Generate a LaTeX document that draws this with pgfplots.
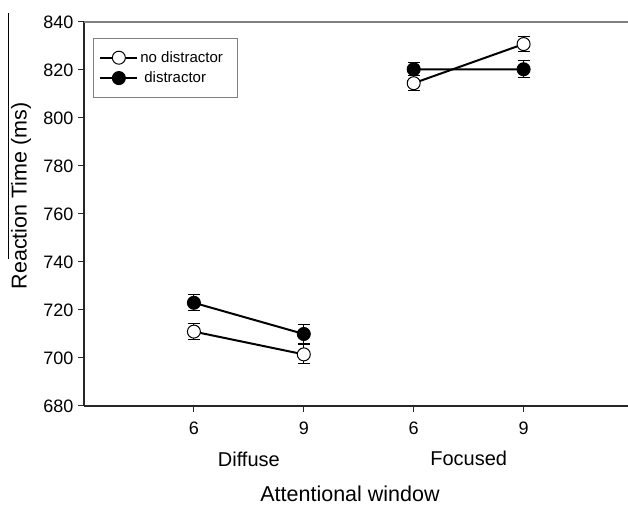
\documentclass[border=0pt]{standalone}
\usepackage{fontspec}
\setmainfont{Liberation Sans}
\usepackage{pgfplots}
\pgfplotsset{compat=1.18}
\begin{document}
\begin{tikzpicture}
\begin{axis}[
  name=ax,
  scale only axis,
  width=544pt, height=384pt,
  xmin=0, xmax=4.95, ymin=680, ymax=840,
  axis x line*=bottom, axis y line*=left,
  axis line style={line width=1.2pt, black!85, -},
  xtick={1,2,3,4}, xticklabels={6,9,6,9},
  ytick={680,700,...,840},
  tick align=outside, major tick length=6pt,
  tick style={line width=1pt, black!85},
  tick label style={font=\fontsize{18}{21}\selectfont},
  xticklabel style={yshift=-6pt},
  yticklabel style={xshift=-1pt},
  /pgf/number format/assume math mode=true,
  /pgf/number format/1000 sep={},
  clip=false,
  unbounded coords=jump,
  xlabel={Attentional window},
  xlabel style={at={(rel axis cs:0.489,0)}, anchor=center, yshift=-88pt, font=\fontsize{21.5}{24}\selectfont},
  ylabel={Reaction Time (ms)},
  ylabel style={at={(rel axis cs:-0.1158,0.547)}, anchor=center, rotate=0, font=\fontsize{21.5}{24}\selectfont},
  legend cell align=left,
  reverse legend,
  legend style={at={(rel axis cs:0.0165,0.958)}, anchor=north west, draw=gray, line width=0.8pt,
    font=\fontsize{15}{18}\selectfont, inner xsep=6pt, inner ysep=11pt,
    nodes={inner sep=2pt}, row sep=4pt},
  legend image code/.code={\draw[mark repeat=2, mark phase=2] plot coordinates {(0pt,0pt) (18.5pt,0pt) (37pt,0pt)};},
  error bars/error bar style={line width=1pt, black},
  error bars/error mark options={rotate=90, mark size=6pt, line width=1pt, black},
]
\addplot[black, line width=2pt, mark=*, mark size=6.5pt, mark options={fill=black, line width=1pt},
  error bars/.cd, y dir=both, y explicit] coordinates {
  (1,723.0) +- (0,3.3)
  (2,710.0) +- (0,3.8)
  (2.5,nan) +- (0,0)
  (3,820.3) +- (0,2.7)
  (4,820.3) +- (0,3.5)
};
\addlegendentry{\hspace*{4pt}distractor\hspace*{6pt}}
\addplot[black, line width=2pt, mark=*, mark size=6.5pt, mark options={fill=white, line width=1pt},
  error bars/.cd, y dir=both, y explicit] coordinates {
  (1,711.0) +- (0,3.4)
  (2,701.5) +- (0,4.0)
  (2.5,nan) +- (0,0)
  (3,814.5) +- (0,3.0)
  (4,830.8) +- (0,3.3)
};
\addlegendentry{no distractor\hspace*{6pt}}
\node[font=\fontsize{20}{24}\selectfont] at ([yshift=-53pt]axis cs:1.5,680) {Diffuse};
\node[font=\fontsize{20}{24}\selectfont] at ([yshift=-52pt]axis cs:3.5,680) {Focused};
\draw[gray, line width=1.5pt] (rel axis cs:0,1) -- (rel axis cs:1,1);
\draw[black, line width=1pt] (rel axis cs:-0.1379,1.0234) -- (rel axis cs:-0.1379,0.383);
\end{axis}
\pgfresetboundingbox
\useasboundingbox ([shift={(-84pt,-99pt)}]ax.south west) rectangle ([shift={(0pt,22pt)}]ax.north east);
\end{tikzpicture}
\end{document}
